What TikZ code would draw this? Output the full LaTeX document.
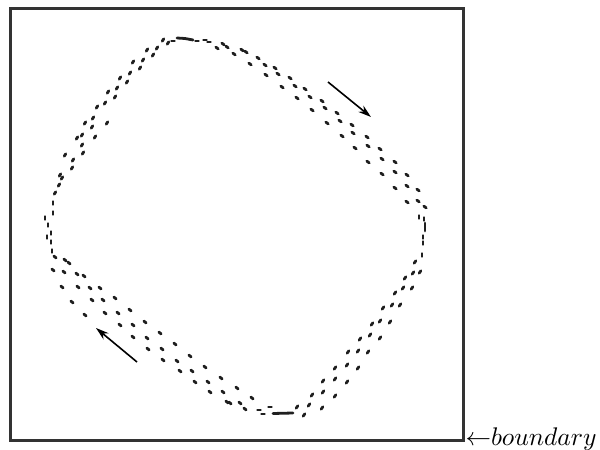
\documentclass[tikz,border=0pt]{standalone}
\usetikzlibrary{arrows.meta}
\begin{document}
\begin{tikzpicture}[x=1pt,y=-1pt,
  frame/.style={draw=black!80,line width=3pt},
  dotmark/.style={line width=2.8pt,line cap=round,black!88},
  flow/.style={line width=1.6pt,-{Stealth[length=13pt,width=8pt]}},
  lab/.style={anchor=base west,inner sep=0pt,scale=2.55}]
\useasboundingbox (0,0) rectangle (600,450);
\draw[frame] (10,8) rectangle (463,440);
% upper-left edge
\foreach \x/\y in {163/40,168/43,157/48,147/50,153/55,143/60,140/68,133/62,130/73,120/78,127/82,117/88,108/92,115/97,105/103,97/107,107/123,93/118,85/123,92/127,95/137,82/135,77/138,82/145,83/153,73/160,65/155,72/168,60/175,62/178,59/185,55/193}
  \draw[dotmark] (\x,\y) ++(-0.8,1.2) -- ++(1.6,-2.4);
% top corner
\draw[dotmark] (177,38) -- (185,38.5) -- (193,40);
\foreach \x/\y in {173/41,197/41,205/40,209/42}
  \draw[dotmark] (\x,\y) ++(-1.5,0) -- ++(3,0);
% upper-right edge
\foreach \x/\y in {217/48,223/44,227/47,234/54,242/50,246/52,250/64,258/58,265/65,266/75,275/68,278/74,282/87,290/78,295/86,297/98,305/89,310/97,312/110,322/101,325/108,327/123,337/113,340/121,342/136,352/125,353/133,355/148,367/137,368/146,368/162,380/149,382/159,382/174,395/162,395/172,395/188,407/175,407/186,407/202,418/190,418/201,425/207}
  \draw[dotmark] (\x,\y) ++(-1.2,-0.9) -- ++(2.4,1.8);
% right corner
\draw[dotmark] (425,223) -- (425,231);
\foreach \x/\y in {419/217,424/219,423/237,423/243,422/255}
  \draw[dotmark] (\x,\y) ++(0,-1.5) -- ++(0,3);
% lower-right edge
\foreach \x/\y in {415/262,420/272,413/273,405/278,412/288,403/288,395/293,400/305,392/305,383/308,390/322,380/321,372/324,380/338,370/335,360/339,368/352,358/351,348/352,358/368,347/365,335/368,347/382,335/379,323/381,335/396,323/392,312/395,322/408,309/405,304/415,297/407}
  \draw[dotmark] (\x,\y) ++(-0.88,1.2) -- ++(1.76,-2.4);
% bottom corner
\draw[dotmark] (273,413.5) -- (293,413);
\foreach \x/\y in {263/414,270/407,259/410}
  \draw[dotmark] (\x,\y) ++(-1.5,0) -- ++(3,0);
% lower-left edge
\foreach \x/\y in {245/409,252/398,240/403,230/403,237/388,227/402,223/392,210/392,221/378,208/382,195/382,205/367,192/371,180/371,190/356,177/361,163/360,175/344,162/349,148/349,160/333,147/338,133/337,145/322,133/325,120/325,130/310,118/313,105/313,85/315,115/298,103/300,92/300,72/302,100/288,90/288,78/287,62/287,84/276,77/274,64/272,53/270,69/263,65/260,55/257}
  \draw[dotmark] (\x,\y) ++(-1.14,-0.98) -- ++(2.28,1.96);
% left corner
\foreach \x/\y in {53/203,53/213,45/218,48/225,51/233,47/237,51/242,52/251}
  \draw[dotmark] (\x,\y) ++(0,-1.5) -- ++(0,3);
% arrows
\coordinate (a1s) at (328,82);
\coordinate (a1e) at (371,117);
\coordinate (a2s) at (137,362);
\coordinate (a2e) at (96,328);
\draw[flow] (a1s) -- (a1e);
\draw[flow] (a2s) -- (a2e);
\node[lab] (bnd) at (465,445) {$\leftarrow$$boundary$};
\end{tikzpicture}
\end{document}
